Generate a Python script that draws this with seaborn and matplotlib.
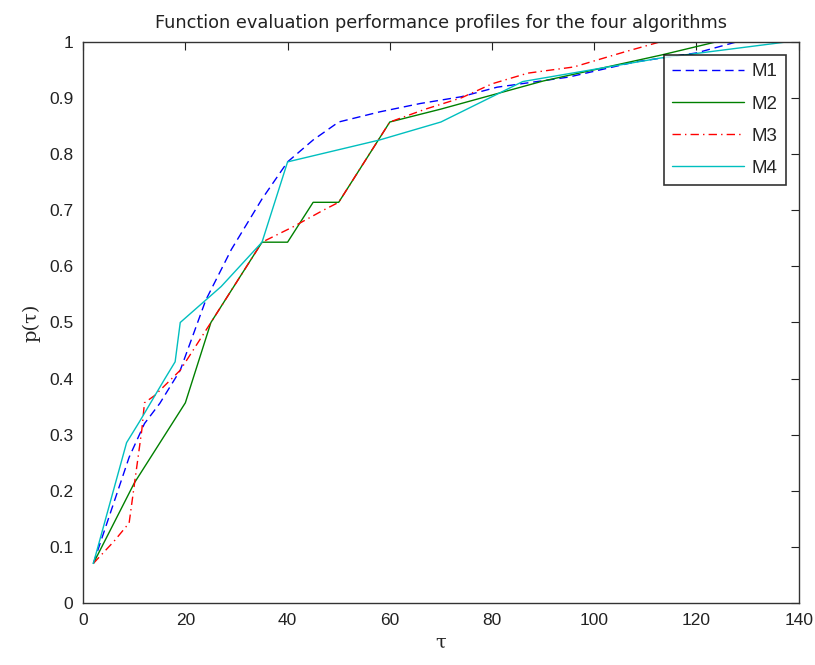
import matplotlib
matplotlib.use("Agg")
import matplotlib.pyplot as plt
import pandas as pd
import seaborn as sns

# performance profile data
m1_tau = [2, 9, 12, 15, 19, 24, 29, 35, 40, 45, 50, 58, 66, 74, 81, 95, 108, 120, 128, 140]
m1_p = [0.071, 0.26, 0.32, 0.356, 0.415, 0.54, 0.63, 0.72, 0.786, 0.825, 0.857, 0.875,
        0.89, 0.902, 0.919, 0.937, 0.964, 0.98, 1.0, 1.0]

m2_tau = [2, 10, 20, 25, 35, 40, 45, 50, 60, 70, 80, 90, 100, 113, 124, 140]
m2_p = [0.071, 0.214, 0.357, 0.5, 0.643, 0.643, 0.714, 0.714, 0.857, 0.88, 0.905,
        0.93, 0.95, 0.976, 1.0, 1.0]

m3_tau = [2, 6, 9, 10, 11.5, 12, 14, 19, 25, 35, 41, 47, 50, 60, 67, 74, 80, 87, 96, 106, 113, 140]
m3_p = [0.071, 0.11, 0.143, 0.21, 0.31, 0.357, 0.37, 0.415, 0.5, 0.643, 0.67, 0.70,
        0.714, 0.857, 0.88, 0.90, 0.925, 0.944, 0.955, 0.982, 1.0, 1.0]

m4_tau = [2, 8.5, 11, 16, 18, 19, 27, 35, 40, 58, 70, 86, 113, 138, 140]
m4_p = [0.071, 0.286, 0.323, 0.40, 0.43, 0.5, 0.564, 0.643, 0.786, 0.825, 0.857,
        0.929, 0.971, 1.0, 1.0]

labels = ["M1", "M2", "M3", "M4"]
x_ticks = list(range(0, 141, 20))
y_ticks = [0, 0.1, 0.2, 0.3, 0.4, 0.5, 0.6, 0.7, 0.8, 0.9, 1]
y_tick_labels = ["0", "0.1", "0.2", "0.3", "0.4", "0.5", "0.6", "0.7", "0.8", "0.9", "1"]

sns.set_style("white")
plt.rcParams["font.family"] = ["Liberation Sans", "DejaVu Sans"]

series = [
    (m1_tau, m1_p, "#0000ff", (6, 3.5)),
    (m2_tau, m2_p, "#008000", None),
    (m3_tau, m3_p, "#ff0000", (6, 3, 1, 3)),
    (m4_tau, m4_p, "#00bfbf", None),
]

fig = plt.figure(figsize=(8.15, 6.65), dpi=100)
ax = fig.add_axes([0.102, 0.0928, 0.878, 0.8445])

for (tau, p, color, dash), name in zip(series, labels):
    df = pd.DataFrame({"tau": tau, "p": p})
    sns.lineplot(data=df, x="tau", y="p", ax=ax, color=color, lw=1.0,
                 sort=False, estimator=None, label=name)
    if dash is not None:
        ax.lines[-1].set_dashes(dash)

ax.set_xlim(0, 140)
ax.set_ylim(0, 1)
ax.set_xticks(x_ticks)
ax.set_xticklabels([str(t) for t in x_ticks])
ax.set_yticks(y_ticks)
ax.set_yticklabels(y_tick_labels)
ax.tick_params(direction="in", length=6, width=0.8, top=True, right=True,
               labelsize=12.5, colors="#222222", pad=7)
for s in ax.spines.values():
    s.set_color("#333333")
    s.set_linewidth(1.0)

ax.set_title("Function evaluation performance profiles for the four algorithms",
             family="DejaVu Sans", fontsize=12.8, pad=10, color="#222222")
ax.set_xlabel("τ", family="DejaVu Serif", fontsize=14, labelpad=4)
ax.set_ylabel("p(τ)", family="DejaVu Serif", fontsize=14, labelpad=6)

leg = ax.legend(loc="upper right", fontsize=13.5, handlelength=3.8, frameon=True,
                fancybox=False, borderaxespad=0.7, labelspacing=0.8,
                handletextpad=0.4, borderpad=0.45)
leg.get_frame().set_edgecolor("black")
leg.get_frame().set_linewidth(1.2)

fig.savefig("out.png", dpi=100)
